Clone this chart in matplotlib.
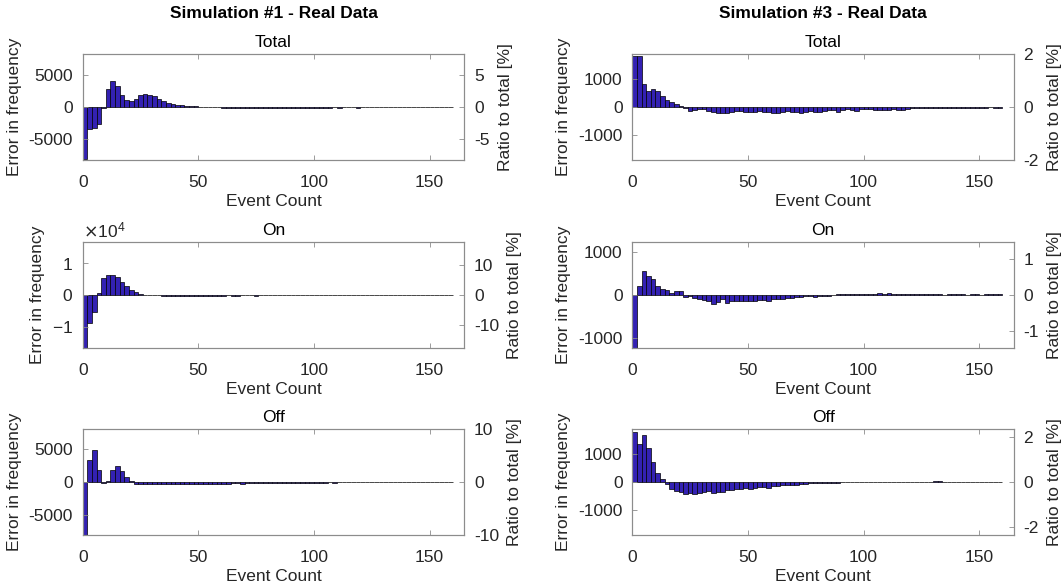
import numpy as np
import matplotlib
matplotlib.use("Agg")
import matplotlib.pyplot as plt

plt.rcParams['font.family'] = ['Liberation Sans', 'DejaVu Sans']
plt.rcParams['axes.unicode_minus'] = False

# bins of 2 events, 0..160
bin_width = 2

# Simulation #1
sim1_total = [
    -8200, -3440, -3330, -2650, -150, 2800, 4070, 3280, 1960, 1160,
    950, 1320, 1850, 2010, 1960, 1750, 1320, 950, 690, 480,
    320, 260, 210, 160, 100, 50, -20, -40, -60, -80,
    -90, -100, -110, -100, -120, -130, -110, -120, -140, -130,
    -120, -150, -140, -130, -120, -110, -130, -120, -110, -100,
    -90, -100, -110, -90, -80, -90, -80, -70, -80, -90,
    -70, -60, -70, -60, -50, -60, -70, -50, -40, -50,
    -60, -40, -50, -40, -30, -40, -30, -40, -30, -20,
]
sim1_on = [
    -16700, -9000, -5500, 600, 5400, 6350, 6350, 5600, 4230, 2750,
    1590, 850, 420, 100, 50, -80, -150, -200, -250, -200,
    -250, -300, -250, -200, -250, -300, -250, -200, -220, -180,
    -200, -150, -180, -200, -150, -120, -150, -180, -150, -120,
    -100, -150, -120, -100, -80, -120, -100, -80, -100, -80,
    -60, -80, -100, -80, -60, -80, -60, -50, -60, -80,
    -50, -60, -40, -50, -60, -40, -30, -50, -40, -30,
    -40, -30, -20, -30, -40, -20, -30, -20, -10, -20,
]
sim1_off = [
    -8100, 3330, 4970, 1900, -150, 150, 1800, 2460, 1640, 770,
    150, -250, -300, -350, -300, -280, -350, -320, -300, -380,
    -330, -300, -360, -300, -280, -320, -260, -300, -250, -280,
    -230, -250, -220, -200, -230, -190, -200, -170, -180, -150,
    -160, -140, -150, -120, -130, -110, -120, -100, -110, -90,
    -100, -80, -90, -70, -80, -60, -70, -50, -60, -50,
    -40, -50, -30, -40, -30, -20, -30, -20, -30, -20,
    -10, -20, -10, -20, -10, 0, -10, -10, 0, -10,
]

# Simulation #3
sim3_total = [
    1830, 1830, 820, 580, 640, 560, 380, 260, 170, 110,
    50, -35, -155, -107, -70, -85, -130, -180, -215, -225,
    -215, -170, -155, -130, -190, -165, -190, -140, -165, -190,
    -215, -200, -165, -155, -180, -165, -215, -165, -155, -180,
    -165, -140, -120, -95, -165, -95, -70, -107, -130, -70,
    -60, -80, -100, -90, -120, -100, -80, -110, -90, -60,
    -40, -30, -50, -40, -30, -40, -50, -30, -20, -40,
    -30, -20, -40, -30, -20, -30, -20, -10, -20, -30,
]
sim3_on = [
    -1230, 200, 555, 440, 375, 220, 140, 117, 40, 94,
    86, -55, -30, -62, -86, -110, -150, -210, -165, -86,
    -180, -150, -133, -133, -140, -133, -140, -125, -117, -133,
    -86, -100, -94, -78, -70, -55, -40, -23, -30, -55,
    -23, -15, -15, 8, 23, 23, 23, 15, 23, 23,
    20, 30, 25, 35, 30, 40, 30, 25, 20, 30,
    25, 20, 30, 20, 15, 25, 20, 10, 15, 20,
    15, 20, 10, 15, 20, 10, 15, 20, 15, 25,
]
sim3_off = [
    1780, 1340, 1680, 1220, 720, 306, 94, -70, -247, -318,
    -365, -424, -400, -435, -400, -365, -318, -400, -353, -353,
    -282, -294, -260, -235, -224, -235, -200, -188, -165, -200,
    -141, -130, -118, -106, -106, -94, -70, -60, -47, -35,
    -47, -24, -24, -47, -24, -12, -10, -10, -5, -10,
    -5, 0, -5, 0, 5, 0, -5, 0, 5, 0,
    5, 0, 10, 0, 15, 20, 20, 10, 5, 0,
    0, 5, 0, -5, 0, 5, 0, 0, 5, 0,
]

panel_titles = ['Total', 'On', 'Off']
column_titles = ['Simulation #1 - Real Data', 'Simulation #3 - Real Data']
series = [[sim1_total, sim1_on, sim1_off], [sim3_total, sim3_on, sim3_off]]

# axis limits / ticks
err_lims = [[8400, 16800, 8150], [1890, 1235, 1890]]
ratio_lims = [[8.4, 17.7, 10], [2.0, 1.47, 2.35]]
err_ticks = [[[-5000, 0, 5000], [-10000, 0, 10000], [-5000, 0, 5000]],
             [[-1000, 0, 1000], [-1000, 0, 1000], [-1000, 0, 1000]]]
ratio_ticks = [[[-5, 0, 5], [-10, 0, 10], [-10, 0, 10]],
               [[-2, 0, 2], [-1, 0, 1], [-2, 0, 2]]]

bar_color = '#3321b3'
spine_color = '#8c8c8c'
text_color = '#262626'
fs = 12.5

fig = plt.figure(figsize=(10.63, 5.88), dpi=100)

col_left = [0.0778, 0.5948]
col_width = 0.359
row_bottom = [0.7279, 0.4082, 0.0901]
row_height = 0.1803

for c in range(2):
    for r in range(3):
        vals = series[c][r]
        x = np.arange(len(vals)) * bin_width
        ax = fig.add_axes([col_left[c], row_bottom[r], col_width, row_height])
        ax.bar(x, vals, width=bin_width, align='edge', color=bar_color,
               edgecolor='black', linewidth=0.5)
        ax.set_xlim(0, 165)
        ax.set_ylim(-err_lims[c][r], err_lims[c][r])
        ax.set_xticks([0, 50, 100, 150])
        ax.set_yticks(err_ticks[c][r])
        if c == 0 and r == 1:
            ax.ticklabel_format(axis='y', style='sci', scilimits=(0, 0), useMathText=True)
            ax.yaxis.get_offset_text().set_fontsize(fs)
            ax.yaxis.get_offset_text().set_color(text_color)
        ax.tick_params(direction='in', top=True, right=False, length=3.5, width=0.6,
                       color=spine_color, labelsize=fs, labelcolor=text_color)
        ax.tick_params(axis='x', pad=11)
        ax.tick_params(axis='y', pad=7)
        for sp in ax.spines.values():
            sp.set_color(spine_color)
            sp.set_linewidth(0.8)
        ax.set_title(panel_titles[r], fontsize=fs, color='black', pad=5)
        ax.set_xlabel('Event Count', fontsize=fs, color=text_color, labelpad=3)
        ax.set_ylabel('Error in frequency', fontsize=fs, color=text_color, labelpad=5)

        ax2 = ax.twinx()
        ax2.set_ylim(-ratio_lims[c][r], ratio_lims[c][r])
        ax2.set_yticks(ratio_ticks[c][r])
        ax2.tick_params(direction='in', length=3.5, width=0.6, color=spine_color,
                        labelsize=fs, labelcolor=text_color, pad=7)
        for sp in ax2.spines.values():
            sp.set_color(spine_color)
            sp.set_linewidth(0.8)
        ax2.set_ylabel('Ratio to total [%]', fontsize=fs, color=text_color, labelpad=6)

    fig.text(col_left[c] + col_width / 2, 1 - 13 / 588, column_titles[c],
             ha='center', va='center', fontsize=fs, fontweight='bold')

fig.savefig('out.png', dpi=100)
